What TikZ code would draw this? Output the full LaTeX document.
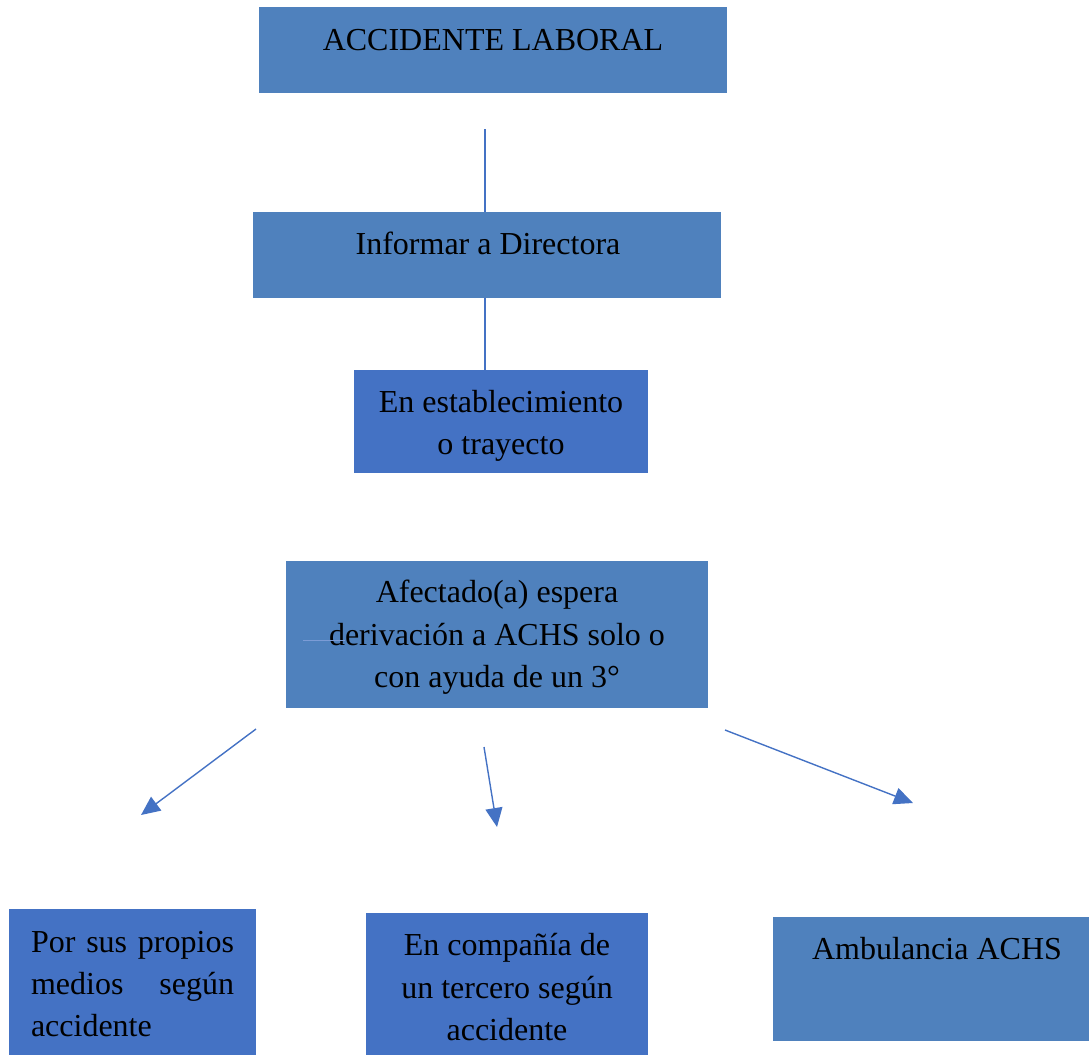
\documentclass[tikz,border=0pt]{standalone}
\usepackage{fontspec}
\setmainfont{Liberation Serif}
\usetikzlibrary{arrows.meta}
\definecolor{boxA}{HTML}{4F81BD}
\definecolor{boxB}{HTML}{4472C4}
\definecolor{lineC}{HTML}{4472C4}
\begin{document}
\begin{tikzpicture}[x=1pt,y=-1pt,
  boxa/.style={fill=boxA,draw=none,inner sep=0pt},
  boxb/.style={fill=boxB,draw=none,inner sep=0pt},
  txt/.style={anchor=base,inner sep=0pt,font=\fontsize{32}{42}\selectfont,text=black},
  conn/.style={draw=lineC,line width=1.4pt},
  arr/.style={draw=lineC,line width=1.4pt,-{Triangle[length=19pt,width=17pt]}}]
\useasboundingbox (0,0) rectangle (1089,1055);
% boxes
\node[boxa,minimum width=468pt,minimum height=86pt] (b1) at (493,50) {};
\node[boxa,minimum width=468pt,minimum height=86pt] (b2) at (487,255) {};
\node[boxb,minimum width=294pt,minimum height=103pt] (b3) at (501,421.5) {};
\node[boxa,minimum width=422pt,minimum height=147pt] (b4) at (497,634.5) {};
\node[boxb,minimum width=247pt,minimum height=146pt] (b5) at (132.5,982) {};
\node[boxb,minimum width=282pt,minimum height=142pt] (b6) at (507,984) {};
\node[boxa,minimum width=316pt,minimum height=124pt] (b7) at (931,979) {};
% texts
\node[txt] (t1) at (493,50) {ACCIDENTE LABORAL};
\node[txt] (t2) at (488,254) {Informar a Directora};
\node[txt] (t3a) at (501,412) {En establecimiento};
\node[txt] (t3b) at (501,454) {o trayecto};
\node[txt] (t4a) at (497,602) {Afectado(a) espera};
\node[txt] (t4b) at (497,645) {derivación a ACHS solo o};
\node[txt] (t4c) at (497,687) {con ayuda de un 3°};
\node[txt] (t5a) at (132.5,952) {\hbox to 203pt{Por\hfill sus\hfill propios}};
\node[txt] (t5b) at (132.5,994) {\hbox to 203pt{medios\hfill según}};
\node[txt] (t5c) at (132.5,1036) {\hbox to 203pt{accidente\hfill}};
\node[txt] (t6a) at (507,955) {En compañía de};
\node[txt] (t6b) at (507,998) {un tercero según};
\node[txt] (t6c) at (507,1040) {accidente};
\node[txt] (t7) at (937,959) {Ambulancia ACHS};
% connectors
\coordinate (c1) at (485,129);
\coordinate (c2) at (485,298);
\draw[conn] (c1) -- (c1 |- b2.north);
\draw[conn] (c2) -- (c2 |- b3.north);
\coordinate (s1) at (303,640);
\coordinate (e1) at (345,640);
\draw[draw=lineC!70,line width=0.6pt] (s1) -- (e1);
\coordinate (a1s) at (256,729);
\coordinate (a1e) at (141,815);
\coordinate (a2s) at (484,747);
\coordinate (a2e) at (497,827);
\coordinate (a3s) at (725,730);
\coordinate (a3e) at (913,803);
\draw[arr] (a1s) -- (a1e);
\draw[arr] (a2s) -- (a2e);
\draw[arr] (a3s) -- (a3e);
\end{tikzpicture}
\end{document}
